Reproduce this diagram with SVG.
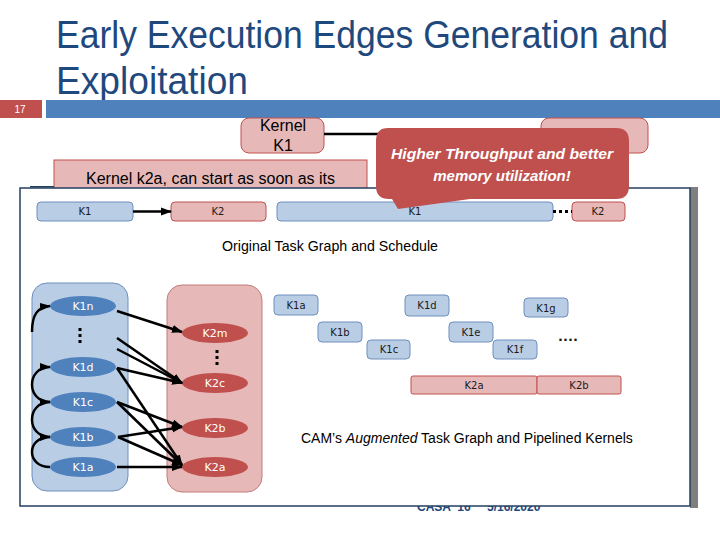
<svg xmlns="http://www.w3.org/2000/svg" width="720" height="540" viewBox="0 0 720 540">
<style>
.title{font-family:"Liberation Sans",Arial,sans-serif;font-size:38px;fill:#1F497D}
.cap{font-family:"Liberation Sans",Arial,sans-serif;fill:#000}
.sm{font-family:"DejaVu Sans",sans-serif;font-size:10px;fill:#1a1a1a;text-anchor:middle}
.el{font-family:"DejaVu Sans",sans-serif;font-size:11px;fill:#fff;text-anchor:middle}
.bb{fill:#B9CDE5;stroke:#6F8FBF;stroke-width:1}
.pb{fill:#E6B9B8;stroke:#C0504D;stroke-width:1}
.be{fill:#4F81BD}
.re{fill:#C0504D}
.ar{stroke:#000;stroke-width:2.5;fill:none;marker-end:url(#ah)}
</style>
<defs>
<marker id="ah" markerUnits="userSpaceOnUse" markerWidth="11" markerHeight="10" refX="10" refY="5" orient="auto">
<path d="M0,1 L11,5 L0,9 Z" fill="#000"/>
</marker>
</defs>
<rect width="720" height="540" fill="#fff"/>
<!-- title -->
<text class="title" x="56" y="48" textLength="612" lengthAdjust="spacingAndGlyphs">Early Execution Edges Generation and</text>
<text class="title" x="56" y="94" textLength="192" lengthAdjust="spacingAndGlyphs">Exploitation</text>
<rect x="0" y="100" width="42" height="18" fill="#C0504D"/>
<text x="20" y="113" font-family="Liberation Sans,Arial,sans-serif" font-size="10" fill="#fff" text-anchor="middle">17</text>
<rect x="46" y="100" width="674" height="18" fill="#4F81BD"/>
<!-- footer (mostly hidden) -->
<text x="417" y="511" font-family="Liberation Sans,Arial,sans-serif" font-size="12" font-weight="bold" fill="#1F497D">CASA ’16</text>
<text x="487" y="511" font-family="Liberation Sans,Arial,sans-serif" font-size="12" font-weight="bold" fill="#1F497D">5/16/2020</text>
<!-- top nodes -->
<g id="kernelK1">
<rect x="241" y="118" width="83" height="35" rx="8" class="pb"/>
<text class="cap" x="283" y="131" font-size="16" text-anchor="middle">Kernel</text>
<text class="cap" x="283" y="151" font-size="16" text-anchor="middle">K1</text>
</g>
<g id="kernelK2">
<rect x="541" y="118" width="107" height="35" rx="8" class="pb"/>
</g>
<line x1="324" y1="134" x2="380" y2="134" stroke="#000" stroke-width="2.5"/>
<g id="banner">
<rect x="54" y="160" width="313" height="40" class="pb"/>
<text class="cap" x="86" y="184" font-size="16" textLength="249" lengthAdjust="spacingAndGlyphs">Kernel k2a, can start as soon as its</text>
</g>
<!-- panel -->
<g id="panel">
<rect x="30" y="186" width="24" height="1.5" fill="#243F60"/>
<rect x="690" y="187" width="8" height="321" fill="#7F7F7F"/>
<rect x="20" y="188" width="670" height="318" fill="#fff" stroke="#243F60" stroke-width="1.5"/>
</g>
<!-- original schedule -->
<g id="orig-K1"><rect x="37" y="202" width="96" height="19" rx="4" class="bb"/><text class="sm" x="85" y="215">K1</text></g>
<g id="orig-K2"><rect x="171" y="202" width="95" height="19" rx="4" class="pb"/><text class="sm" x="218" y="215">K2</text></g>
<g id="orig-K1long"><rect x="277" y="202" width="276" height="19" rx="4" class="bb"/><text class="sm" x="415" y="215">K1</text></g>
<g id="orig-K2b"><rect x="572" y="202" width="53" height="19" rx="4" class="pb"/><text class="sm" x="598" y="215">K2</text></g>
<text class="cap" x="330" y="251" font-size="14" text-anchor="middle" textLength="216" lengthAdjust="spacingAndGlyphs">Original Task Graph and Schedule</text>
<!-- augmented graph groups -->
<g id="groupK1"><rect x="32" y="283" width="96" height="208" rx="15" class="bb"/></g>
<g id="groupK2"><rect x="167" y="285" width="95" height="207" rx="15" fill="#E6B9B8" stroke="#C27C7A"/></g>
<g id="K1n"><ellipse cx="83" cy="306" rx="33" ry="10" class="be"/><text class="el" x="83" y="310">K1n</text></g>
<g id="K1d"><ellipse cx="83" cy="367" rx="33" ry="10" class="be"/><text class="el" x="83" y="371">K1d</text></g>
<g id="K1c"><ellipse cx="83" cy="402" rx="33" ry="10" class="be"/><text class="el" x="83" y="406">K1c</text></g>
<g id="K1b"><ellipse cx="83" cy="437" rx="33" ry="10" class="be"/><text class="el" x="83" y="441">K1b</text></g>
<g id="K1a"><ellipse cx="83" cy="467" rx="33" ry="10" class="be"/><text class="el" x="83" y="471">K1a</text></g>
<g id="K2m"><ellipse cx="215" cy="333" rx="33" ry="10" class="re"/><text class="el" x="215" y="337">K2m</text></g>
<g id="K2c"><ellipse cx="215" cy="383" rx="33" ry="10" class="re"/><text class="el" x="215" y="387">K2c</text></g>
<g id="K2b"><ellipse cx="215" cy="428" rx="33" ry="10" class="re"/><text class="el" x="215" y="432">K2b</text></g>
<g id="K2a"><ellipse cx="215" cy="467" rx="33" ry="10" class="re"/><text class="el" x="215" y="471">K2a</text></g>
<line x1="80" y1="328" x2="80" y2="346" stroke="#000" stroke-width="3" stroke-dasharray="3,3"/>
<line x1="217" y1="350" x2="217" y2="368" stroke="#000" stroke-width="3" stroke-dasharray="3,3"/>
<g id="connectors">
<path class="ar" d="M117,311 L182,332"/>
<path class="ar" d="M117,338 L182,383"/>
<path class="ar" d="M117,349 L182,383"/>
<path class="ar" d="M117,368 L182,383"/>
<path class="ar" d="M117,368 L182,465"/>
<path class="ar" d="M117,402 L182,427"/>
<path class="ar" d="M117,402 L182,465"/>
<path class="ar" d="M118,437 L182,427"/>
<path class="ar" d="M118,437 L182,465"/>
<path class="ar" d="M117,467 L182,467"/>
<path class="ar" d="M50,467 C26,467 26,437 50,437"/>
<path class="ar" d="M50,437 C26,437 26,402 50,402"/>
<path class="ar" d="M50,402 C26,402 26,367 50,367"/>
<path class="ar" d="M32,332 C32,314 38,307 50,306"/>
<path class="ar" d="M133,211.5 L171,211.5"/>
<line x1="553" y1="211.5" x2="572" y2="211.5" stroke="#000" stroke-width="3" stroke-dasharray="3,3"/>
</g>
<!-- pipelined schedule -->
<g id="p-K1a"><rect x="274" y="295" width="44" height="20" rx="4" class="bb"/><text class="sm" x="296" y="309">K1a</text></g>
<g id="p-K1b"><rect x="318" y="322" width="44" height="20" rx="4" class="bb"/><text class="sm" x="340" y="336">K1b</text></g>
<g id="p-K1c"><rect x="367" y="340" width="43" height="19" rx="4" class="bb"/><text class="sm" x="389" y="353">K1c</text></g>
<g id="p-K1d"><rect x="405" y="295" width="44" height="21" rx="4" class="bb"/><text class="sm" x="427" y="309">K1d</text></g>
<g id="p-K1e"><rect x="449" y="322" width="44" height="20" rx="4" class="bb"/><text class="sm" x="471" y="336">K1e</text></g>
<g id="p-K1f"><rect x="493" y="340" width="44" height="19" rx="4" class="bb"/><text class="sm" x="515" y="353">K1f</text></g>
<g id="p-K1g"><rect x="524" y="298" width="44" height="19" rx="4" class="bb"/><text class="sm" x="546" y="312">K1g</text></g>
<text x="568" y="341" font-family="DejaVu Sans,sans-serif" font-size="13" font-weight="bold" fill="#1a1a1a" text-anchor="middle">....</text>
<g id="p-K2a"><rect x="411" y="376" width="126" height="18" rx="2" class="pb"/><text class="sm" x="474" y="389">K2a</text></g>
<g id="p-K2b"><rect x="537" y="376" width="84" height="18" rx="2" class="pb"/><text class="sm" x="579" y="389">K2b</text></g>
<text class="cap" x="301" y="443" font-size="14">CAM’s <tspan font-style="italic">Augmented</tspan> Task Graph and Pipelined Kernels</text>
<!-- callout -->
<g id="callout">
<path d="M388,128 H616 Q629,128 629,141 V186 Q629,199 616,199 H470 L398,209 L392,199 H389 Q376,199 376,186 V141 Q376,128 388,128 Z" fill="#C0504D"/>
<text x="502" y="159" font-family="Liberation Sans,Arial,sans-serif" font-size="15" font-weight="bold" font-style="italic" fill="#fff" text-anchor="middle" textLength="222" lengthAdjust="spacingAndGlyphs">Higher Throughput and better</text>
<text x="502" y="181" font-family="Liberation Sans,Arial,sans-serif" font-size="15" font-weight="bold" font-style="italic" fill="#fff" text-anchor="middle">memory utilization!</text>
</g>
</svg>
